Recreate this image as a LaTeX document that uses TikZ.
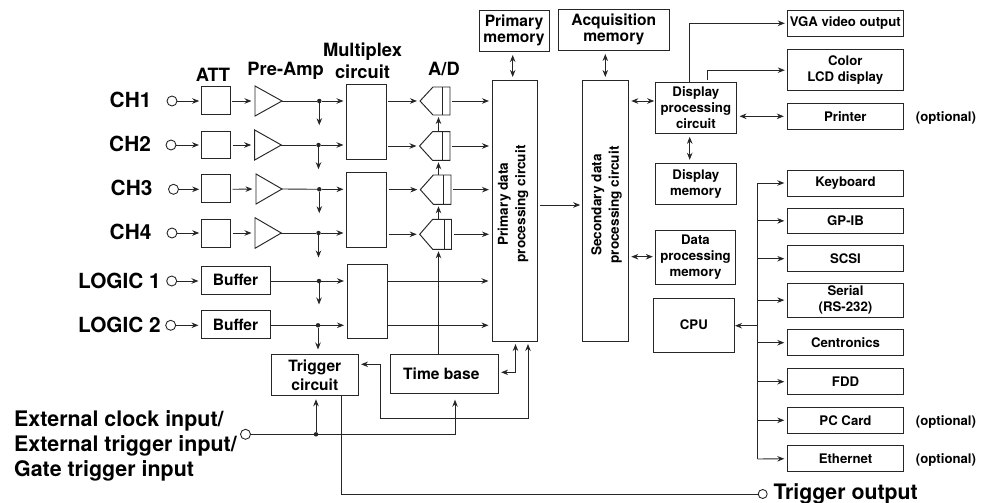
\documentclass[tikz,border=0pt]{standalone}
\usepackage{fontspec}
\setmainfont{TeX Gyre Heros}[BoldFont=* Bold]
\usetikzlibrary{arrows.meta}
\definecolor{ink}{gray}{0.15}
\tikzset{
  x=1pt,y=-1pt,
  line/.style={draw=ink,line width=0.9pt},
  arr/.style={line,-{Stealth[length=7pt,width=5.5pt]},shorten >=2.5pt},
  dbl/.style={line,{Stealth[length=7pt,width=5.5pt]}-{Stealth[length=7pt,width=5.5pt]}},
  box/.style={draw=ink,line width=0.95pt,fill=white,inner sep=0pt,outer sep=0pt,align=center,font=\bfseries\fontsize{13.2}{16}\selectfont},
  bigbox/.style={box,font=\bfseries\fontsize{15.6}{16}\selectfont},
  trigbox/.style={box,font=\bfseries\fontsize{15.6}{19}\selectfont},
  port/.style={circle,draw=ink,line width=0.9pt,fill=white,inner sep=0pt,outer sep=0pt,minimum size=10pt},
  jct/.style={circle,fill=ink,inner sep=0pt,minimum size=4.5pt},
  big/.style={inner sep=0pt,font=\bfseries\fontsize{20.8}{25}\selectfont},
  head/.style={inner sep=0pt,align=center,font=\bfseries\fontsize{18.3}{22}\selectfont},
  small/.style={inner sep=0pt,font=\bfseries\fontsize{13.2}{16}\selectfont},
  vert/.style={inner sep=0pt,rotate=90,align=center,font=\bfseries\fontsize{13.6}{17.5}\selectfont},
}
\newcommand\bx[7]{%
  \pgfmathsetmacro\bw{#4-#2}\pgfmathsetmacro\bh{#5-#3}%
  \node[#6,minimum width=\bw pt,minimum height=\bh pt] (#1) at ({(#2+#4)/2},{(#3+#5)/2}) {#7};}
\newcommand\amp[5]{%
  \draw[line,line width=0.95pt,fill=white] (#2,#4) -- (#3,{(#4+#5)/2}) -- (#2,#5) -- cycle;
  \coordinate (#1in) at (#2,{(#4+#5)/2});
  \coordinate (#1out) at (#3,{(#4+#5)/2});}
\newcommand\adc[5]{%
  \draw[line,line width=0.95pt,fill=white] (#2,{(#4+#5)/2}) -- (#2+13,#4) -- (#3,#4) -- (#3,#5) -- (#2+13,#5) -- cycle;
  \draw[line,line width=0.95pt] (#3-7.5,#4) -- (#3-7.5,#5);
  \coordinate (ad#1in) at (#2,{(#4+#5)/2});
  \coordinate (ad#1out) at (#3,{(#4+#5)/2});
  \coordinate (ad#1top) at (438.5,#4);
  \coordinate (ad#1bot) at (438.5,#5);}
\begin{document}
\begin{tikzpicture}
\useasboundingbox (0,0) rectangle (990,503);
\bx{prim}{492}{80}{537.7}{341}{box}{}
\bx{sec}{582.7}{80}{628.3}{341}{box}{}
\node[vert] (primt) at (513,204) {Primary data\\processing circuit};
\node[vert] (sect) at (606.5,205) {Secondary data\\processing circuit};
\node[big] (lc1) at (130.5,100) {CH1};
\node[big] (lc2) at (130,144) {CH2};
\node[big] (lc3) at (131.5,188) {CH3};
\node[big] (lc4) at (130.5,232) {CH4};
\node[big,anchor=east] (ll1) at (161,280.5) {LOGIC 1};
\node[big,anchor=east] (ll2) at (161,325) {LOGIC 2};
\node[head] (hatt) at (213,74.7) {ATT};
\node[head] (hpre) at (285.7,71) {Pre-Amp};
\node[head] (hmux) at (362.5,61) {Multiplex\\circuit};
\node[head] (had) at (444,69) {A/D};
\bx{mux1}{346}{84}{386}{159}{box}{}
\bx{mux2}{346}{172}{386.7}{247}{box}{}
\bx{mux3}{347}{264}{387}{338.3}{box}{}
\foreach \n/\px/\y/\ax/\az/\ay/\ab/\tx/\tz/\ty/\tb/\dx/\dn in {
 1/172/101/201.7/230/86.7/114/255/282/86/116/319.3/127.7,
 2/171/145/201.5/230.5/131/158.5/254.7/281.3/130/160/318.5/171.7,
 3/173.5/189.3/201.7/230.5/174.7/202/256/282/174/204/319.3/215.7,
 4/172/233/201.7/230.5/219/247/255/281.3/217.7/248.3/318.5/260}{
  \node[port] (c\n) at (\px,\y) {};
  \bx{att\n}{\ax}{\ay}{\az}{\ab}{box}{}
  \amp{amp\n}{\tx}{\tz}{\ty}{\tb}
  \node[jct] (j\n) at (\dx,\y) {};
  \coordinate (dn\n) at (\dx,\dn);
  \draw[arr] (c\n) -- (att\n.west |- c\n);
  \draw[arr,shorten <=2pt,shorten >=3.5pt] (att\n.east |- c\n) -- (amp\n in);
  \draw[line] (amp\n out) -- (j\n);
  \draw[arr] (j\n) -- (dn\n);
}
\draw[arr] (j1) -- (j1 -| mux1.west);
\draw[arr] (j2) -- (j2 -| mux1.west);
\draw[arr] (j3) -- (j3 -| mux2.west);
\draw[arr] (j4) -- (j4 -| mux2.west);
\adc{1}{420}{450}{87}{115}
\adc{2}{419.5}{450}{131.7}{160.3}
\adc{3}{420.3}{451}{175}{204.3}
\adc{4}{419.7}{451.5}{219.3}{249.3}
\draw[arr,shorten <=2pt,shorten >=3pt] (ad1in -| mux1.east) -- (ad1in);
\draw[arr,shorten <=2pt,shorten >=3pt] (ad2in -| mux1.east) -- (ad2in);
\draw[arr,shorten <=2pt,shorten >=3pt] (ad3in -| mux2.east) -- (ad3in);
\draw[arr,shorten <=2pt,shorten >=3pt] (ad4in -| mux2.east) -- (ad4in);
\foreach \n in {1,2,3,4}{
  \draw[arr,shorten <=2pt,shorten >=3pt] (ad\n out) -- (ad\n out -| prim.west);
}
\draw[arr,shorten >=2pt] (ad4top) -- (ad3bot);
\draw[arr,shorten >=2pt] (ad3top) -- (ad2bot);
\draw[arr,shorten >=2pt] (ad2top) -- (ad1bot);
\foreach \n/\px/\y/\by/\bb/\dx/\dn in {1/171.7/281/266.5/294/319/307, 2/170.7/325.3/310.5/338.3/318/352}{
  \node[port] (lc\n p) at (\px,\y) {};
  \bx{buf\n}{201}{\by}{270}{\bb}{bigbox}{Buffer}
  \node[jct] (lj\n) at (\dx,\y) {};
  \coordinate (ldn\n) at (\dx,\dn);
  \draw[arr] (lc\n p) -- (buf\n.west |- lc\n p);
  \draw[line] (buf\n.east |- lc\n p) -- (lj\n);
  \draw[arr] (lj\n) -- (ldn\n);
  \draw[arr,shorten >=3pt] (lj\n) -- (lj\n -| mux3.west);
  \draw[arr,shorten >=3.5pt] (lj\n -| mux3.east) -- (lj\n -| prim.west);
}
\bx{trig}{271.7}{354.3}{358}{395.3}{trigbox}{Trigger\\circuit}
\bx{tb}{390}{354.3}{498.6}{393.7}{bigbox}{Time base\hspace{6pt}}
\draw[arr,shorten >=2pt] (tb.north -| ad4bot) -- (ad4bot);
\coordinate (pa) at (515.5,341);
\coordinate (pb) at (528,341);
\coordinate (tbr) at (498.6,372.3);
\draw[line,{Stealth[length=7pt,width=5.5pt]}-{Stealth[length=7pt,width=5.5pt]},shorten <=3pt,shorten >=2.5pt] (pa) |- (tbr);
\coordinate (bend) at (380,418.7);
\coordinate (trgin) at (358,364.3);
\draw[line,{Stealth[length=7pt,width=5.5pt]}-{Stealth[length=7pt,width=5.5pt]},shorten <=3pt,shorten >=3pt] (pb) |- (bend) |- (trgin);
\node[port] (ext) at (245.5,434.3) {};
\node[jct] (ej) at (316,434.3) {};
\coordinate (extb) at (455,393.7);
\draw[line] (ext) -- (ej);
\draw[arr,shorten >=6pt] (ej) -| (extb);
\draw[arr,shorten >=4pt] (ej) -- (ej |- trig.south);
\node[big,anchor=west,align=left,font=\bfseries\fontsize{21.4}{25}\selectfont] (lext) at (14,445.5) {External clock input/\\External trigger input/\\Gate trigger input};
\coordinate (trgo) at (341.4,395.3);
\node[port,minimum size=9pt] (tout) at (762.7,494) {};
\draw[line] (trgo) |- (tout);
\node[big,anchor=west,font=\bfseries\fontsize{21.3}{25}\selectfont] (ltout) at (773.3,494) {Trigger output};
\bx{pmem}{479}{10.3}{549}{51.3}{bigbox}{Primary\\memory}
\bx{amem}{558.7}{9.3}{669}{50.3}{bigbox}{Acquisition\\memory}
\draw[dbl] (512.7,55) coordinate (pm1) -- (512.7,77) coordinate (pm2);
\draw[dbl] (605.3,54) coordinate (am1) -- (605.3,77) coordinate (am2);
\bx{dpc}{655.7}{82.3}{736}{133.3}{box}{Display\\processing\\circuit}
\bx{dmem}{655.7}{163.3}{736}{204.3}{box}{Display\\memory}
\bx{dpm}{655.3}{230}{735.7}{284.3}{box}{Data\\processing\\memory}
\bx{cpu}{653.7}{298.3}{734}{352}{box}{CPU}
\draw[arr,shorten <=2pt] (prim.east |- 0,205) -- (sec.west |- 0,205);
\draw[dbl,shorten <=3pt,shorten >=1.5pt] (sec.east |- 0,101) -- (dpc.west |- 0,101);
\draw[dbl,shorten <=3pt,shorten >=2.5pt] (sec.east |- 0,256.7) -- (dpm.west |- 0,256.7);
\draw[dbl,shorten <=3.5pt,shorten >=3.5pt] (689.7,133.3) coordinate (dp1) -- (dmem.north -| dp1);
\bx{vga}{787.3}{10.3}{903.3}{36.3}{box}{VGA video output}
\bx{lcd}{787.3}{49.7}{903.3}{90.7}{box}{Color\\LCD display}
\bx{prn}{787.3}{103.3}{903.3}{129.3}{box}{Printer}
\coordinate (dv) at (689.7,82.3);
\coordinate (dl) at (707.3,82.3);
\draw[arr] (dv) |- (vga.west);
\draw[arr,shorten <=2pt] (dl) |- (lcd.west);
\draw[dbl,shorten <=3.5pt,shorten >=3.5pt] (dpc.east |- prn) -- (prn.west);
\node[small] (o1) at (946,118.5) {(optional)};
\foreach \nm/\ya/\yb/\txt in {kb/170/196/Keyboard,gp/208/233.7/GP-IB,sc/245.7/271.7/SCSI,se/283/317.3/{Serial\\(RS-232)},ce/329.7/355.7/Centronics,fd/368.7/394.7/FDD,pc/407.3/433.3/PC Card,et/445.7/471.7/Ethernet}{
  \bx{\nm}{787.3}{\ya}{903.7}{\yb}{box}{\txt}
}
\coordinate (bt) at (757.5,183);
\coordinate (bb) at (757.5,459);
\draw[line] (bb) -- (bt);
\draw[arr,shorten >=3pt] (bt) -- (kb.west);
\draw[arr,shorten >=3pt] (bt |- gp) -- (gp.west);
\draw[arr,shorten >=3pt] (bt |- sc) -- (sc.west);
\draw[arr,shorten >=3pt] (bt |- se) -- (se.west);
\draw[arr,shorten >=3pt] (bt |- ce) -- (ce.west);
\draw[arr,shorten >=3pt] (bt |- fd) -- (fd.west);
\draw[arr,shorten >=3pt] (bt |- pc) -- (pc.west);
\draw[arr,shorten >=3pt] (bb) -- (et.west);
\draw[arr,shorten >=1pt] (757.5,325.7) coordinate (bc) -- (cpu.east |- bc);
\node[small] (o2) at (946,422) {(optional)};
\node[small] (o3) at (946,460) {(optional)};
\end{tikzpicture}
\end{document}
